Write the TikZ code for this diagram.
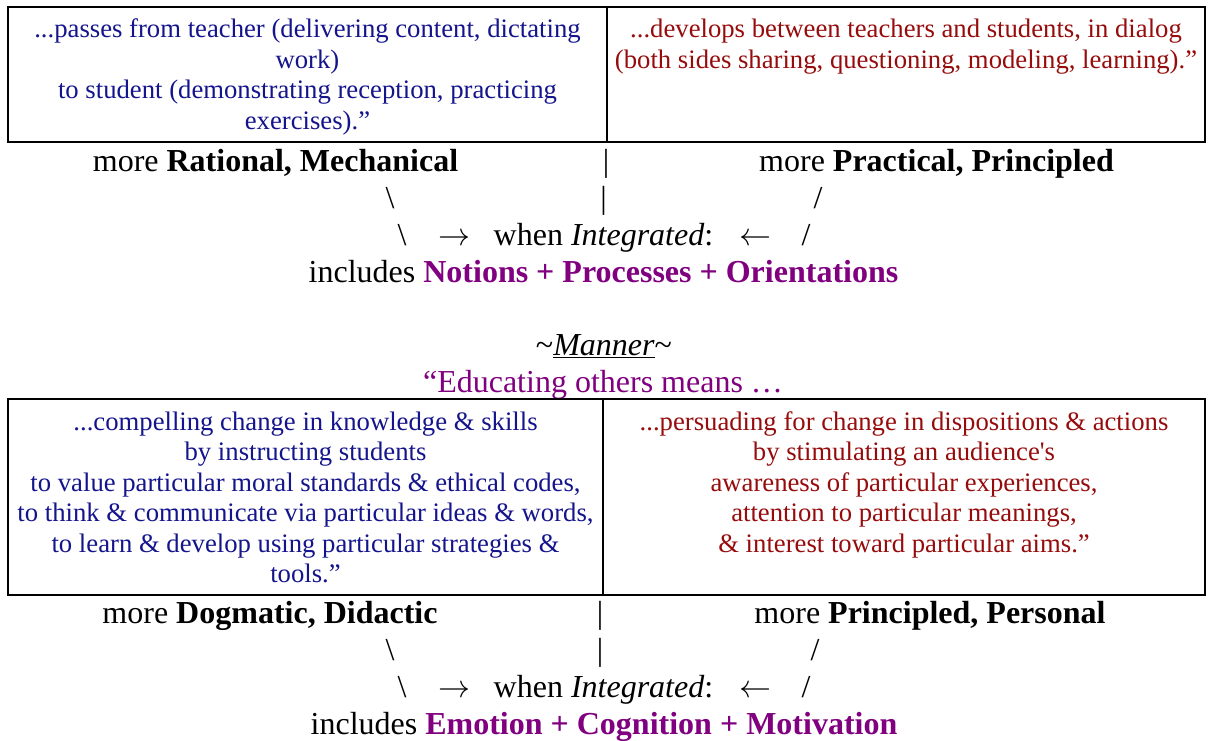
\RequirePackage{fix-cm}
\documentclass[tikz,border=0pt]{standalone}
\usepackage{fontspec}
\setmainfont{Liberation Serif}
\usetikzlibrary{positioning}
\definecolor{quoteblue}{RGB}{20,20,140}
\definecolor{quotered}{RGB}{150,12,12}
\definecolor{keypurple}{RGB}{128,0,128}
\tikzset{%
  cell/.style={draw=black,line width=1.3pt},
  celltext/.style={align=center,inner sep=0,anchor=base,font=\fontsize{26.7}{30.4}\selectfont},
  rowtext/.style={inner sep=0,anchor=base,font=\fontsize{32}{36.8}\selectfont}
}

\begin{document}
\begin{tikzpicture}[x=1pt,y=-1pt]
    \useasboundingbox (0,0) rectangle (1209,740);
    % upper table (anchor base = last line)
    \draw[cell] (8,7) rectangle (1205,142);
    \draw[cell] (607,7) -- (607,142);
    \path
      (307.5,129) node[celltext,text=quoteblue] (pass) {...passes from teacher (delivering content, dictating\\work)\\to student (demonstrating reception, practicing\\exercises).”}
      (906,68.2) node[celltext,text=quotered] (dialog) {...develops between teachers and students, in dialog\\(both sides sharing, questioning, modeling, learning).”};
    \path
      (275.5,171) node[rowtext] (ratmech) {more \textbf{Rational, Mechanical}}
      (606,171) node[rowtext] (barA) {|}
      (936.5,171) node[rowtext] (pracprin) {more \textbf{Practical, Principled}}
      (390,208) node[rowtext] (bslA) {\textbackslash}
      (603.5,208) node[rowtext] (barB) {|}
      (818,208) node[rowtext] (slA) {/}
      (402,245) node[rowtext] (bslB) {\textbackslash}
      (454,245) node[rowtext] (toA) {$\rightarrow$}
      (603.5,245) node[rowtext] (whenA) {when \textit{Integrated}:}
      (755,245) node[rowtext] (fromA) {$\leftarrow$}
      (806,245) node[rowtext] (slB) {/}
      (603.5,282) node[rowtext] (inclA) {includes \textcolor{keypurple}{\textbf{Notions + Processes + Orientations}}};
    % manner heading
    \path
      (604,355) node[rowtext] (manner) {\textasciitilde\underline{\textit{Manner}}\textasciitilde}
      (603,392) node[rowtext,text=keypurple] (means) {“Educating others means …};
    % lower table
    \draw[cell] (8,399) rectangle (1205,595);
    \draw[cell] (603,399) -- (603,595);
    \path
      (305.5,582.5) node[celltext,text=quoteblue] (compel) {...compelling change in knowledge \& skills\\by instructing students\\to value particular moral standards \& ethical codes,\\to think \& communicate via particular ideas \& words,\\to learn \& develop using particular strategies \&\\tools.”}
      (904,552) node[celltext,text=quotered] (persuade) {...persuading for change in dispositions \& actions\\by stimulating an audience\textquotesingle s\\awareness of particular experiences,\\attention to particular meanings,\\\& interest toward particular aims.”};
    \path
      (270,623) node[rowtext] (dogdid) {more \textbf{Dogmatic, Didactic}}
      (600,623) node[rowtext] (barC) {|}
      (930,623) node[rowtext] (prinpers) {more \textbf{Principled, Personal}}
      (390,660) node[rowtext] (bslC) {\textbackslash}
      (600,660) node[rowtext] (barD) {|}
      (815,660) node[rowtext] (slC) {/}
      (402,697) node[rowtext] (bslD) {\textbackslash}
      (454,697) node[rowtext] (toB) {$\rightarrow$}
      (603.5,697) node[rowtext] (whenB) {when \textit{Integrated}:}
      (755,697) node[rowtext] (fromB) {$\leftarrow$}
      (806,697) node[rowtext] (slD) {/}
      (604,734) node[rowtext] (inclB) {includes \textcolor{keypurple}{\textbf{Emotion + Cognition + Motivation}}};
\end{tikzpicture}
\end{document}
